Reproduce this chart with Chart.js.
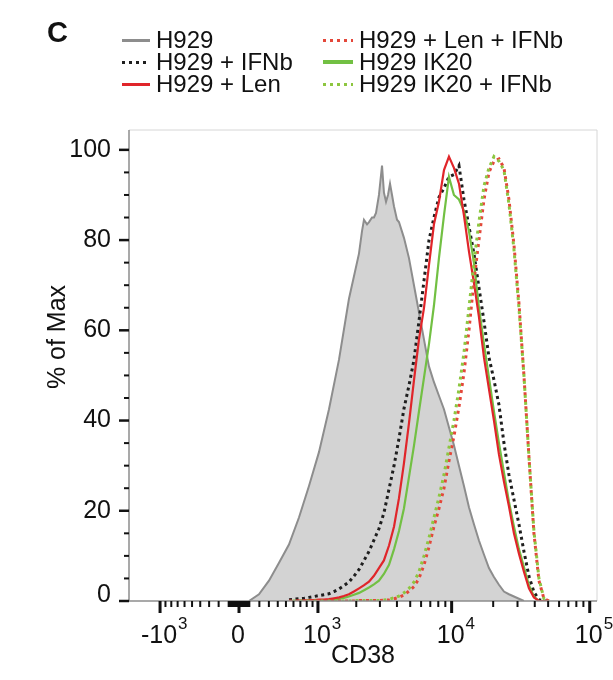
<!DOCTYPE html>
<html>
<head>
<meta charset="utf-8">
<script src="https://cdn.jsdelivr.net/npm/chart.js@4.4.1/dist/chart.umd.min.js"></script>
<style>
    html, body { margin: 0; padding: 0; background: #fff; }
    #wrap { position: relative; width: 613px; height: 680px; font-family: 'Liberation Sans', Arial, sans-serif; color: #111; }
    #chart { position: absolute; left: 0; top: 0; }
    #panel { position: absolute; left: 47px; top: 16px; font-size: 29px; font-weight: bold; }
    #ytitle { position: absolute; left: 56px; top: 337px; font-size: 25px; white-space: nowrap;
              transform: translate(-50%, -50%) rotate(-90deg); }
    .leg { position: absolute; display: flex; align-items: center; font-size: 24px; line-height: 22px; white-space: nowrap; }
    .leg .sample { display: inline-block; height: 3px; margin-right: 6px; }
</style>
</head>
<body>
<div id="wrap">
    <canvas id="chart" width="613" height="680"></canvas>
    <div id="panel">C</div>
    <div id="ytitle">% of Max</div>
    <div id="legend"></div>
</div>
<script>
// CD38 positions (shared by the five coloured histograms)
const cd38Grid = [540, 610, 680, 760, 840, 930, 1020, 1120, 1230, 1350, 1480, 1610, 1760, 1920, 2100,
    2290, 2490, 2710, 2950, 3210, 3500, 3810, 4140, 4500, 4900, 5330, 5790, 6300, 6850, 7440,
    8090, 8800, 9560, 10390, 11300, 12280, 13350, 14510, 15770, 17150, 18640, 20260, 22020, 23930, 26010,
    28270, 30730, 33400, 36300, 39460, 42890, 46620, 50670];

// % of Max for each sample
const ifnbPct = [0.3, 0.4, 0.5, 0.6, 0.8, 1.0, 1.2, 1.4, 1.6, 2.1, 2.7, 3.4, 4.2, 5.5, 7,
    9, 11, 13.5, 16, 19.5, 24.8, 30, 36, 42.6, 47.8, 53.5, 62, 71, 80, 85,
    89.5, 91.5, 94, 94.5, 96.5, 89, 83, 77, 69.5, 62, 54, 49, 43.5, 35, 28,
    22.5, 17, 11, 5.5, 2, 0.3, 0, 0];
const lenPct = [0, 0, 0.1, 0.1, 0.2, 0.2, 0.3, 0.3, 0.4, 0.6, 0.8, 1.1, 1.5, 2.1, 2.8,
    3.5, 4.3, 5.6, 7.3, 9, 12.3, 16.5, 22.8, 30.5, 39.5, 49, 58, 65, 74.5, 83.5,
    88.5, 95.5, 98.5, 96, 92.5, 85.5, 77.5, 70.5, 63, 54, 47, 40, 32.5, 26.5, 21,
    15, 10.5, 6.5, 2.8, 0.8, 0, 0, 0];
const lenIfnbPct = [0, 0, 0, 0, 0, 0, 0, 0, 0, 0, 0, 0, 0, 0, 0.1,
    0.1, 0.1, 0.1, 0.1, 0.2, 0.2, 0.5, 0.8, 1.3, 2.2, 3.2, 5, 8, 12, 16.5,
    20.5, 25, 31, 36.5, 43, 50.5, 60, 71, 80, 89, 95, 97.5, 98, 96, 89,
    79, 66, 50, 32, 15, 4.5, 0.5, 0];
const ik20Pct = [0, 0, 0, 0, 0.1, 0.1, 0.1, 0.2, 0.2, 0.3, 0.5, 0.7, 1, 1.4, 1.8,
    2.4, 3, 3.7, 4.5, 6, 8, 11.5, 15.5, 20.5, 27.5, 34.5, 42, 49.5, 57, 65.5,
    76, 85.5, 94, 90, 89, 86.5, 82, 75, 65, 57, 49.5, 42, 35, 28.5, 22,
    16.5, 11.5, 7.5, 3.5, 1, 0, 0, 0];
const ik20IfnbPct = [0, 0, 0, 0, 0, 0, 0, 0, 0, 0, 0, 0, 0, 0.1, 0.1,
    0.1, 0.1, 0.1, 0.1, 0.2, 0.4, 0.7, 1.1, 1.8, 2.8, 4.2, 6.5, 10, 14, 18.5,
    23, 28, 34, 40, 47, 55, 65, 75, 84, 92, 96, 98.5, 97.5, 95.5, 88,
    78, 65, 50, 32, 15.5, 5, 0.5, 0];

// untreated H929 (filled grey histogram) has its own finer sampling
const h929Cd38 = [97, 196, 301, 415, 539, 679, 838, 1020, 1231, 1476, 1761, 1922, 2096, 2209, 2285,
    2408, 2490, 2623, 2711, 2807, 2952, 3109, 3213, 3327, 3440, 3559, 3682, 3805, 4005, 4139,
    4502, 4897, 5325, 5790, 6296, 6845, 7442, 8091, 8796, 9562, 10394, 11299, 12282, 13350, 14512,
    15774, 17145, 18636, 20256, 22017, 23931, 26012, 28273, 30731, 33401];
const h929Pct = [0, 1.5, 4.5, 8.5, 12.5, 18.5, 25.5, 33, 42.5, 53.5, 67, 72, 77, 82, 84.5,
    83.5, 84, 85, 85, 86, 90, 96.5, 90.5, 88.5, 90, 92.5, 90, 87.5, 84.5, 84,
    80.5, 76, 70, 64, 58, 52, 48.5, 45.5, 42.5, 38.5, 34.5, 30, 25.5, 20.8, 17,
    13.4, 10.3, 7.3, 5.3, 3.6, 2.1, 1.5, 1, 0.5, 0];

const seriesLabels = ['H929', 'H929 + IFNb', 'H929 + Len', 'H929 + Len + IFNb', 'H929 IK20', 'H929 IK20 + IFNb'];

// axis ticks
const yTickValues = [0, 5, 10, 15, 20, 25, 30, 35, 40, 45, 50, 55, 60, 65, 70, 75, 80, 85, 90, 95, 100];
const xMajorTicks = [-1000, 0, 1000, 10000, 100000];
const xTickBase = ['-10', '0', '10', '10', '10'];
const xTickExp = ['3', '', '3', '4', '5'];
const xMinorTicks = [-900, -800, -700, -600, -500, -400, -300, -200, -100,
    -90, -80, -70, -60, -50, -40, -30, -20, -10, 10, 20, 30, 40, 50, 60, 70, 80, 90,
    100, 200, 300, 400, 500, 600, 700, 800, 900,
    2000, 3000, 4000, 5000, 6000, 7000, 8000, 9000,
    20000, 30000, 40000, 50000, 60000, 70000, 80000, 90000];

const FONT = "'Liberation Sans', Arial, sans-serif";

// biexponential (arcsinh) axis like the flow cytometry software uses
class BiexScale extends Chart.LinearScale {
    determineDataLimits() {
        this.min = this.options.min;
        this.max = this.options.max;
    }
    buildTicks() {
        const ticks = xMajorTicks.map(v => ({ value: v, major: true }));
        xMinorTicks.forEach(v => ticks.push({ value: v, major: false }));
        return ticks.sort((a, b) => a.value - b.value);
    }
    configure() {
        super.configure();
        const c = this.options.cofactor;
        this._t0 = Math.asinh(this.min / c);
        this._t1 = Math.asinh(this.max / c);
    }
    getPixelForValue(value) {
        const t = Math.asinh(value / this.options.cofactor);
        return this.getPixelForDecimal((t - this._t0) / (this._t1 - this._t0));
    }
    getValueForPixel(pixel) {
        const t = this._t0 + this.getDecimalForPixel(pixel) * (this._t1 - this._t0);
        return Math.sinh(t) * this.options.cofactor;
    }
}
BiexScale.id = 'biex';
BiexScale.defaults = Chart.LinearScale.defaults;
Chart.register(BiexScale);

// tick marks, frame and superscript x labels
const axisMarks = {
    id: 'axisMarks',
    afterDraw(chart) {
        const { ctx, chartArea: a, scales: { x, y } } = chart;
        ctx.save();
        ctx.lineWidth = 1;
        ctx.strokeStyle = '#d6d6d6';
        ctx.beginPath();
        ctx.moveTo(a.left, a.top);
        ctx.lineTo(a.right, a.top);
        ctx.lineTo(a.right, a.bottom);
        ctx.stroke();
        ctx.strokeStyle = '#8d8d8d';
        ctx.lineWidth = 1.5;
        ctx.beginPath();
        ctx.moveTo(a.left, a.top);
        ctx.lineTo(a.left, a.bottom);
        ctx.lineTo(a.right, a.bottom);
        ctx.stroke();

        ctx.strokeStyle = '#111';
        y.ticks.forEach(t => {
            const py = y.getPixelForValue(t.value);
            ctx.lineWidth = t.major ? 2.5 : 2;
            ctx.beginPath();
            ctx.moveTo(a.left - (t.major ? 10 : 5), py);
            ctx.lineTo(a.left, py);
            ctx.stroke();
        });
        x.ticks.forEach(t => {
            const px = x.getPixelForValue(t.value);
            ctx.lineWidth = t.major ? 3 : 2;
            ctx.beginPath();
            ctx.moveTo(px, a.bottom);
            ctx.lineTo(px, a.bottom + (t.major ? 12 : 6));
            ctx.stroke();
        });

        ctx.fillStyle = '#111';
        ctx.textBaseline = 'alphabetic';
        xMajorTicks.forEach((v, i) => {
            const px = x.getPixelForValue(v);
            ctx.font = '25px ' + FONT;
            const w = ctx.measureText(xTickBase[i]).width;
            ctx.fillText(xTickBase[i], px - w / 2 - 1, a.bottom + 42);
            if (xTickExp[i]) {
                ctx.font = '17px ' + FONT;
                ctx.fillText(xTickExp[i], px + w / 2, a.bottom + 28);
            }
        });
        ctx.restore();
    }
};

const ctx = document.getElementById('chart').getContext('2d');
const onGrid = vals => cd38Grid.map((v, i) => ({ x: v, y: vals[i] }));

const chart = new Chart(ctx, {
    type: 'line',
    data: {
        datasets: [
            { label: seriesLabels[0], data: h929Cd38.map((v, i) => ({ x: v, y: h929Pct[i] })),
              borderColor: '#8d8d8d', backgroundColor: '#d3d3d3', borderWidth: 2, fill: 'origin', order: 10 },
            { label: seriesLabels[1], data: onGrid(ifnbPct),
              borderColor: '#1e1e1e', borderWidth: 3, borderDash: [3, 3.5], order: 5 },
            { label: seriesLabels[2], data: onGrid(lenPct),
              borderColor: '#e0252a', borderWidth: 2.2, order: 3 },
            { label: seriesLabels[3], data: onGrid(lenIfnbPct),
              borderColor: '#e4473a', borderWidth: 3, borderDash: [3, 4], order: 2 },
            { label: seriesLabels[4], data: onGrid(ik20Pct),
              borderColor: '#72c043', borderWidth: 2.2, order: 4 },
            { label: seriesLabels[5], data: onGrid(ik20IfnbPct),
              borderColor: '#8dc640', borderWidth: 3, borderDash: [3, 4], borderDashOffset: 3.5, order: 1 }
        ]
    },
    options: {
        responsive: false,
        animation: false,
        devicePixelRatio: 1,
        layout: { padding: { top: 130, right: 16, left: 0, bottom: 0 } },
        elements: { point: { radius: 0 }, line: { tension: 0, fill: false, borderCapStyle: 'butt' } },
        plugins: { legend: { display: false }, tooltip: { enabled: false } },
        scales: {
            x: {
                type: 'biex',
                cofactor: 578,
                min: -1762,
                max: 112900,
                grid: { display: false, drawTicks: false },
                border: { display: false },
                ticks: { display: false },
                title: { display: true, text: 'CD38', color: '#111', font: { family: FONT, size: 25 }, padding: { top: 0, bottom: 9 } },
                afterFit: scale => { scale.height = 79; }
            },
            y: {
                min: 0,
                max: 104.4,
                grid: { display: false, drawTicks: false },
                border: { display: false },
                afterBuildTicks: scale => {
                    scale.ticks = yTickValues.map(v => ({ value: v, major: v % 20 === 0 }));
                },
                ticks: {
                    autoSkip: false,
                    padding: 18,
                    color: '#111',
                    font: { family: FONT, size: 25, lineHeight: 0.5 },
                    // the zero label sits a little above its tick, as in the original
                    callback: v => (v === 0 ? ['0', ''] : v % 20 === 0 ? String(v) : '')
                },
                afterFit: scale => { scale.width = 129; }
            }
        }
    },
    plugins: [axisMarks]
});

// legend in two columns, built from the datasets
const legendPos = [
    { left: 122, top: 29 }, { left: 122, top: 51 }, { left: 122, top: 73 },
    { left: 323, top: 29 }, { left: 323, top: 51 }, { left: 323, top: 73 }
];
const legendDiv = document.getElementById('legend');
chart.data.datasets.forEach((ds, i) => {
    const item = document.createElement('div');
    item.className = 'leg';
    item.style.left = legendPos[i].left + 'px';
    item.style.top = legendPos[i].top + 'px';
    const sample = document.createElement('span');
    sample.className = 'sample';
    sample.style.width = i < 3 ? '28px' : '30px';
    if (ds.borderDash) {
        sample.style.background = `repeating-linear-gradient(90deg, ${ds.borderColor} 0 3px, transparent 3px 7px)`;
    } else {
        sample.style.background = ds.borderColor;
        sample.style.height = i === 4 ? '4px' : '3px';
    }
    const text = document.createElement('span');
    text.textContent = ds.label;
    item.appendChild(sample);
    item.appendChild(text);
    legendDiv.appendChild(item);
});
</script>
</body>
</html>
